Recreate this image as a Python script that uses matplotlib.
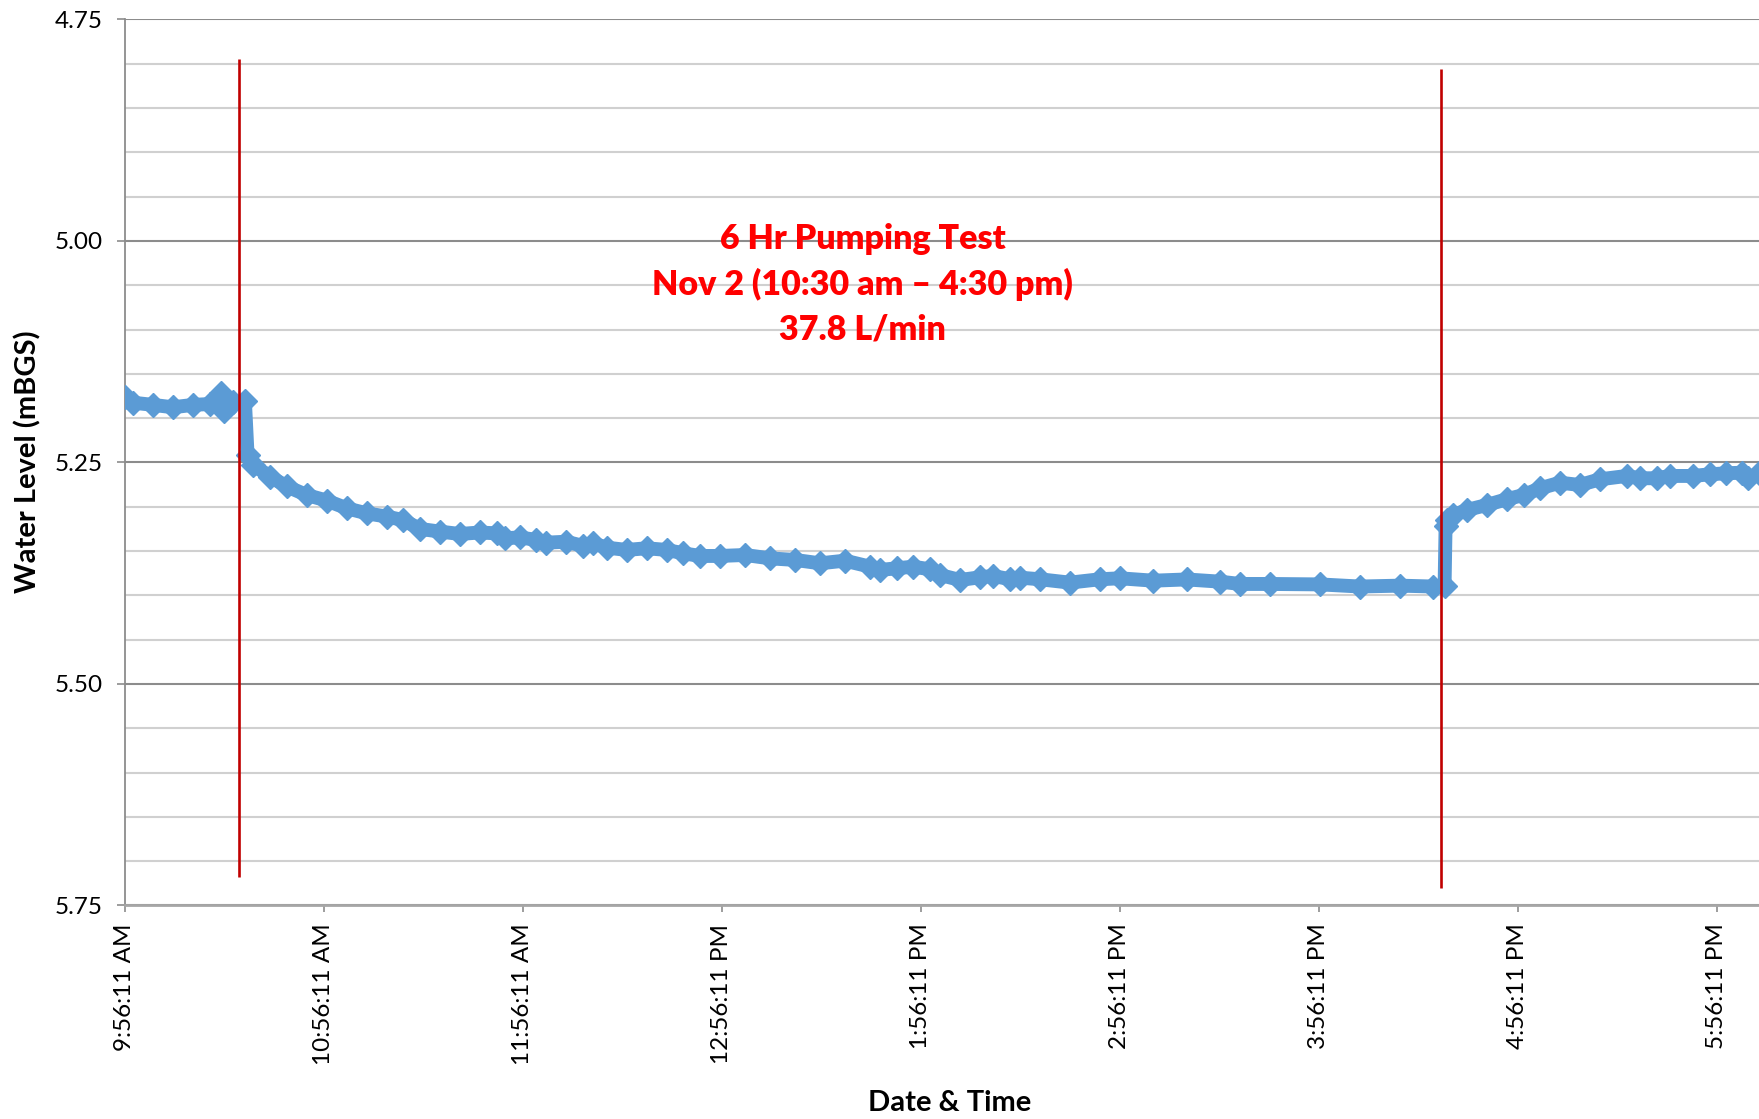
import matplotlib
matplotlib.use("Agg")
import matplotlib.pyplot as plt
from matplotlib.ticker import MultipleLocator

plt.rcParams['font.family'] = ['Lato', 'DejaVu Sans']

# minutes after 9:56:11 AM, water level (m below ground surface)
minutes = [0, 2.6, 8.6, 14.6, 20.6, 25.8, 29.1, 30.1, 32.7, 36.3,
           37.1, 38.8, 43.9, 48.9, 54.9, 61.0, 67.0, 73.0, 79.0, 84.0,
           89.1, 95.1, 101.1, 107.1, 112.2, 114.7, 119.2, 124.2, 127.2, 133.2,
           138.3, 141.3, 145.4, 151.4, 157.4, 163.5, 168.5, 173.5, 179.5, 187.1,
           194.6, 202.2, 209.7, 217.2, 224.8, 227.8, 232.8, 237.8, 242.9, 245.9,
           251.9, 257.9, 261.9, 267.0, 270.0, 276.0, 285.0, 294.1, 300.1, 310.2,
           320.2, 330.3, 336.3, 345.3, 360.4, 372.5, 384.5, 394.6, 398.0,
           398.3, 398.7, 400.6, 404.7, 410.7, 416.7, 421.8, 426.8, 432.8, 438.8,
           444.8, 452.9, 456.9, 461.9, 465.9, 473.0, 478.0, 483.0, 487.6, 489.6,
           492.8]
level = [5.176, 5.1825, 5.185, 5.1877, 5.185, 5.184, 5.172, 5.1915, 5.182, 5.181,
         5.2415, 5.2528, 5.266, 5.277, 5.2867, 5.293, 5.3017, 5.3074, 5.311, 5.315,
         5.325, 5.328, 5.3307, 5.329, 5.330, 5.3356, 5.3345, 5.3375, 5.3405, 5.3394,
         5.3442, 5.3412, 5.3461, 5.3487, 5.3468, 5.3487, 5.3525, 5.3555, 5.3555, 5.3544,
         5.3582, 5.360, 5.3638, 5.3608, 5.3676, 5.3713, 5.3694, 5.3676, 5.3706, 5.377,
         5.3826, 5.3796, 5.378, 5.3818, 5.380, 5.3818, 5.3856, 5.3818, 5.3807, 5.3834,
         5.382, 5.3845, 5.3871, 5.3871, 5.3876, 5.390, 5.389, 5.390, 5.3894,
         5.322, 5.3149, 5.3093, 5.3036, 5.298, 5.2915, 5.2867, 5.2791, 5.2728, 5.2754,
         5.269, 5.2652, 5.2678, 5.2678, 5.2652, 5.2652, 5.2633, 5.2622, 5.2615, 5.2678,
         5.2622]

tick_minutes = [0, 60, 120, 180, 240, 300, 360, 420, 480]
tick_labels = ["9:56:11 AM", "10:56:11 AM", "11:56:11 AM", "12:56:11 PM", "1:56:11 PM",
               "2:56:11 PM", "3:56:11 PM", "4:56:11 PM", "5:56:11 PM"]

# pump on / pump off markers
pump_minutes = [34.6, 397.0]
pump_tops = [4.795, 4.806]
pump_bottoms = [5.718, 5.730]

fig = plt.figure(figsize=(17.59, 11.19), dpi=100)
ax = fig.add_axes([0.0708, 0.1908, 0.9292, 0.7918])

ax.plot(minutes, level, color="#5B9BD5", lw=10, marker="D", ms=12,
        solid_joinstyle="round", zorder=3)

ax.vlines(pump_minutes, pump_tops, pump_bottoms, color="#C00000", lw=1.9, zorder=4)

ax.text(222.6, 5.0485, "6 Hr Pumping Test\nNov 2 (10:30 am \u2013 4:30 pm)\n37.8 L/min",
        color="#FF0000", fontsize=24.5, fontweight="heavy", ha="center", va="center",
        linespacing=1.48)

ax.set_xlim(0, 492.8)
ax.set_ylim(5.75, 4.75)
ax.set_xticks(tick_minutes)
ax.set_xticklabels(tick_labels, rotation=90, fontsize=17.5)
ax.yaxis.set_minor_locator(MultipleLocator(0.05))
ax.set_yticks([4.75, 5.0, 5.25, 5.5, 5.75])
ax.set_yticklabels(["4.75", "5.00", "5.25", "5.50", "5.75"], fontsize=17.5)

ax.grid(which="major", axis="y", color="#8C8C8C", lw=1.5)
ax.grid(which="minor", axis="y", color="#D0D0D0", lw=1.5)
ax.set_axisbelow(True)
ax.tick_params(axis="y", which="major", length=6, width=1.2, color="#8C8C8C", pad=10)
ax.tick_params(axis="y", which="minor", length=0)
ax.tick_params(axis="x", which="major", length=5, width=1.2, color="#8C8C8C", pad=8)

for s in ["top", "right"]:
    ax.spines[s].set_visible(False)
ax.spines["left"].set_color("#8C8C8C")
ax.spines["left"].set_linewidth(1.3)
ax.spines["bottom"].set_color("#A6A6A6")
ax.spines["bottom"].set_linewidth(2)

fig.text(0.016, 0.587, "Water Level (mBGS)", rotation=90, fontsize=21,
         fontweight="bold", ha="center", va="center")
fig.text(0.540, 0.0143, "Date & Time", fontsize=21, fontweight="bold",
         ha="center", va="center")

fig.savefig("out.png", dpi=100)
